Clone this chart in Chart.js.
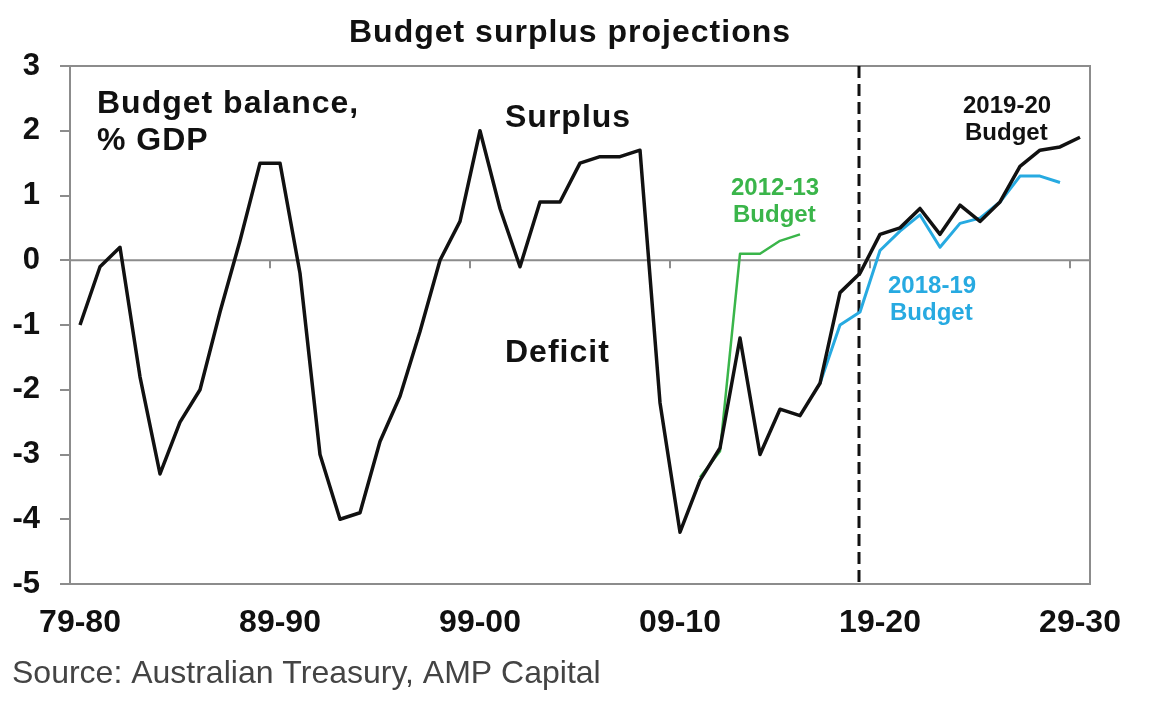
<!DOCTYPE html>
<html>
<head>
<meta charset="utf-8">
<script src="https://cdn.jsdelivr.net/npm/chart.js@4.4.1/dist/chart.umd.min.js"></script>
<style>
    body { margin: 0; background: #fff; }
    #wrap { width: 1160px; height: 704px; }
</style>
</head>
<body>
<div id="wrap"><canvas id="budget" width="1160" height="704"></canvas></div>
<script>
// fiscal years 1979-80 .. 2029-30
const years = [
    '79-80','80-81','81-82','82-83','83-84','84-85','85-86','86-87','87-88','88-89',
    '89-90','90-91','91-92','92-93','93-94','94-95','95-96','96-97','97-98','98-99',
    '99-00','00-01','01-02','02-03','03-04','04-05','05-06','06-07','07-08','08-09',
    '09-10','10-11','11-12','12-13','13-14','14-15','15-16','16-17','17-18','18-19',
    '19-20','20-21','21-22','22-23','23-24','24-25','25-26','26-27','27-28','28-29',
    '29-30'
];
const shownYears = ['79-80','89-90','99-00','09-10','19-20','29-30'];
const yTicks = [3, 2, 1, 0, -1, -2, -3, -4, -5];

// budget balance, % of GDP
const budget2019 = [
    -1.0, -0.1, 0.2, -1.8, -3.3, -2.5, -2.0, -0.8, 0.3, 1.5,
    1.5, -0.2, -3.0, -4.0, -3.9, -2.8, -2.1, -1.1, 0.0, 0.6,
    2.0, 0.8, -0.1, 0.9, 0.9, 1.5, 1.6, 1.6, 1.7, -2.2,
    -4.2, -3.4, -2.9, -1.2, -3.0, -2.3, -2.4, -1.9, -0.5, -0.2,
    0.4, 0.5, 0.8, 0.4, 0.85, 0.6, 0.9, 1.45, 1.7, 1.75,
    1.9
];
const budget2012 = [
    null, null, null, null, null, null, null, null, null, null,
    null, null, null, null, null, null, null, null, null, null,
    null, null, null, null, null, null, null, null, null, null,
    null, -3.35, -2.95, 0.1, 0.1, 0.3, 0.4, null, null, null,
    null, null, null, null, null, null, null, null, null, null,
    null
];
const budget2018 = [
    null, null, null, null, null, null, null, null, null, null,
    null, null, null, null, null, null, null, null, null, null,
    null, null, null, null, null, null, null, null, null, null,
    null, null, null, null, null, null, null, -1.9, -1.0, -0.8,
    0.15, 0.45, 0.7, 0.2, 0.57, 0.65, 0.9, 1.3, 1.3, 1.2,
    null
];
const projectionStart = '18-19';

const GREY = '#8c8c8c';
const GREEN = '#3ab54a';
const BLUE = '#27aae1';
const INK = '#111';
const FONT = '"Liberation Sans", Arial, sans-serif';

const decorations = {
    id: 'decorations',
    beforeDatasetsDraw(c) {
        const ctx = c.ctx, a = c.chartArea;
        const x = c.scales.x, y = c.scales.y;
        ctx.save();
        ctx.strokeStyle = GREY;
        ctx.lineWidth = 2;
        // frame
        ctx.strokeRect(a.left, a.top, a.right - a.left, a.bottom - a.top);
        // zero line
        const y0 = y.getPixelForValue(0);
        ctx.beginPath();
        ctx.moveTo(a.left, y0);
        ctx.lineTo(a.right, y0);
        // tick marks between categories every 10 years
        const band = x.getPixelForValue(1) - x.getPixelForValue(0);
        for (let i = 10; i < years.length; i += 10) {
            const px = x.getPixelForValue(i) - band / 2;
            ctx.moveTo(px, y0);
            ctx.lineTo(px, y0 + 8);
        }
        ctx.stroke();
        // projection divider
        const dx = x.getPixelForValue(years.indexOf(projectionStart)) - 1;
        ctx.strokeStyle = INK;
        ctx.lineWidth = 3;
        ctx.setLineDash([12, 6]);
        ctx.beginPath();
        ctx.moveTo(dx, a.top);
        ctx.lineTo(dx, a.bottom);
        ctx.stroke();
        ctx.restore();
    },
    afterDraw(c) {
        const ctx = c.ctx;
        ctx.save();
        ctx.textBaseline = 'alphabetic';
        ctx.fillStyle = INK;
        ctx.textAlign = 'center';
        ctx.letterSpacing = '1px';
        ctx.font = 'bold 32px ' + FONT;
        ctx.fillText('Budget surplus projections', 570, 42);

        ctx.textAlign = 'left';
        ctx.font = 'bold 32px ' + FONT;
        ctx.fillText('Budget balance,', 97, 113);
        ctx.fillText('% GDP', 97, 150);
        ctx.fillText('Surplus', 505, 127);
        ctx.fillText('Deficit', 505, 362);

        ctx.letterSpacing = '0px';
        ctx.font = 'bold 24px ' + FONT;
        ctx.fillStyle = GREEN;
        ctx.fillText('2012-13', 731, 195);
        ctx.fillText('Budget', 733, 222);
        ctx.fillStyle = BLUE;
        ctx.fillText('2018-19', 888, 293);
        ctx.fillText('Budget', 890, 320);
        ctx.fillStyle = INK;
        ctx.fillText('2019-20', 963, 113);
        ctx.fillText('Budget', 965, 140);

        ctx.font = '32px ' + FONT;
        ctx.fillStyle = '#444';
        ctx.fillText('Source: Australian Treasury, AMP Capital', 12, 683);
        ctx.restore();
    }
};

new Chart(document.getElementById('budget'), {
    type: 'line',
    data: {
        labels: years,
        datasets: [
            { label: '2019-20 Budget', data: budget2019, borderColor: INK, borderWidth: 3.5 },
            { label: '2018-19 Budget', data: budget2018, borderColor: BLUE, borderWidth: 3 },
            { label: '2012-13 Budget', data: budget2012, borderColor: GREEN, borderWidth: 2.5 }
        ]
    },
    options: {
        responsive: false,
        animation: false,
        layout: { padding: { top: 66, right: 70, left: 0, bottom: 0 } },
        elements: {
            line: { tension: 0, borderJoinStyle: 'round', fill: false },
            point: { radius: 0 }
        },
        plugins: {
            legend: { display: false },
            title: { display: false },
            tooltip: { enabled: false }
        },
        scales: {
            x: {
                type: 'category',
                offset: true,
                grid: { display: false, drawTicks: false },
                border: { display: false },
                afterFit: s => { s.height = 120; },
                ticks: {
                    autoSkip: false,
                    maxRotation: 0,
                    padding: 20,
                    color: INK,
                    font: { family: FONT, size: 32, weight: 'bold' },
                    callback: function (v) {
                        const l = this.getLabelForValue(v);
                        return shownYears.includes(l) ? l : '';
                    }
                }
            },
            y: {
                min: -5,
                max: 3,
                afterFit: s => { s.width = 70; },
                afterBuildTicks: s => { s.ticks = yTicks.map(v => ({ value: v })); },
                grid: { drawOnChartArea: false, tickLength: 10, tickColor: GREY, lineWidth: 2 },
                border: { display: false },
                ticks: {
                    padding: 20,
                    color: INK,
                    font: { family: FONT, size: 31, weight: 'bold' }
                }
            }
        }
    },
    plugins: [decorations]
});
</script>
</body>
</html>
